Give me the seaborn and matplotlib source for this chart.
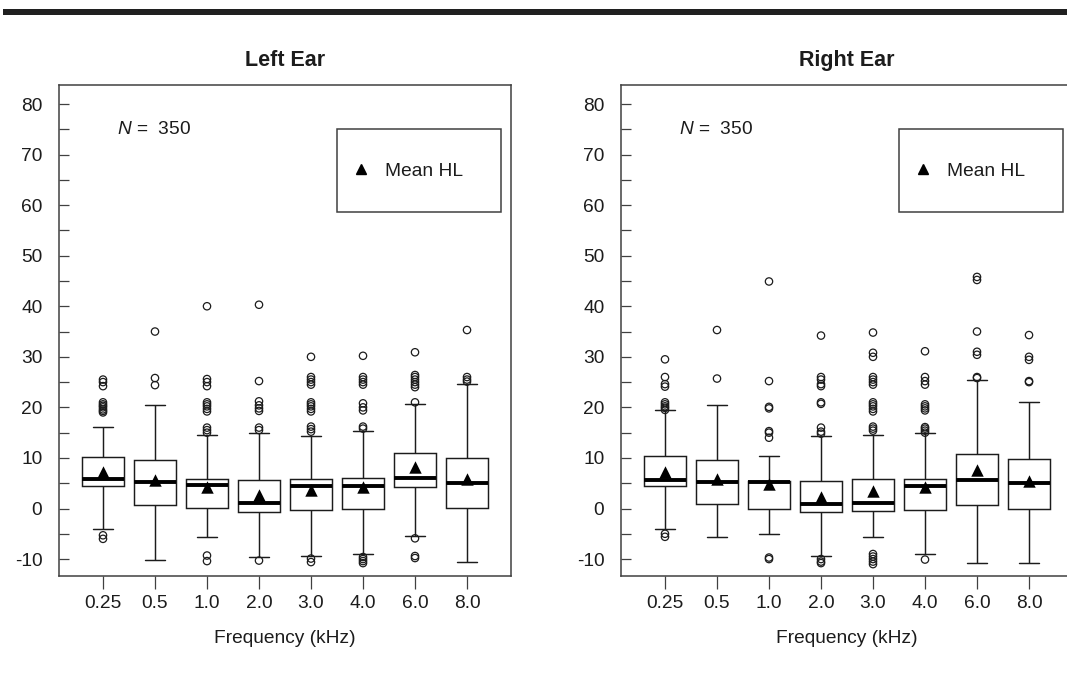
import numpy as np
import pandas as pd
import matplotlib
matplotlib.use("Agg")
import matplotlib.pyplot as plt
from matplotlib.patches import Rectangle
from matplotlib.lines import Line2D
from matplotlib.ticker import FixedLocator
import seaborn as sns

# ---------------- data ----------------
freq_labels = ["0.25", "0.5", "1.0", "2.0", "3.0", "4.0", "6.0", "8.0"]

# Left ear
left_whislo = [-4.0, -10.1, -5.7, -9.5, -9.3, -8.9, -5.5, -10.6]
left_q1     = [4.4, 0.6, 0.1, -0.7, -0.2, 0.0, 4.2, 0.1]
left_med    = [5.8, 5.2, 4.6, 1.0, 4.4, 4.4, 6.0, 5.0]
left_q3     = [10.2, 9.6, 5.9, 5.6, 5.9, 6.1, 10.9, 9.9]
left_whishi = [16.2, 20.5, 14.5, 14.9, 14.3, 15.4, 20.7, 24.6]
left_mean   = [7.3, 5.6, 4.3, 2.7, 3.7, 4.2, 8.3, 5.8]
left_out_025 = [-5.3, -6.0, 19.0, 19.3, 19.6, 20.0, 20.3, 20.6, 21.0, 24.2, 25.0, 25.5]
left_out_05  = [24.4, 25.8, 35.0]
left_out_1   = [-9.3, -10.4, 15.0, 15.5, 16.0, 19.2, 19.7, 20.2, 20.6, 21.0, 24.2, 25.0, 25.6, 40.0]
left_out_2   = [-10.3, 15.5, 16.0, 19.3, 19.8, 20.4, 21.2, 25.2, 40.3]
left_out_3   = [-9.9, -10.6, 15.2, 15.7, 16.2, 19.2, 19.7, 20.2, 20.6, 21.0, 24.5, 25.0, 25.5, 26.0, 30.0]
left_out_4   = [-9.6, -10.0, -10.4, -10.8, 15.8, 16.2, 19.4, 20.0, 20.8, 24.5, 25.0, 25.5, 26.0, 30.2]
left_out_6   = [-5.9, -9.4, -9.8, 21.0, 24.0, 24.5, 25.0, 25.5, 26.0, 26.4, 30.9]
left_out_8   = [25.1, 25.5, 26.0, 35.3]
left_outliers = [left_out_025, left_out_05, left_out_1, left_out_2,
                 left_out_3, left_out_4, left_out_6, left_out_8]

# Right ear
right_whislo = [-4.1, -5.7, -5.0, -9.3, -5.7, -9.0, -10.7, -10.7]
right_q1     = [4.4, 0.9, 0.0, -0.7, -0.4, -0.2, 0.75, 0.0]
right_med    = [5.6, 5.2, 5.2, 0.8, 1.1, 4.5, 5.6, 5.0]
right_q3     = [10.4, 9.6, 5.4, 5.4, 5.8, 5.9, 10.8, 9.7]
right_whishi = [19.4, 20.5, 10.4, 14.3, 14.5, 15.0, 25.5, 21.1]
right_mean   = [7.3, 5.9, 4.8, 2.2, 3.4, 4.2, 7.7, 5.5]
right_out_025 = [-5.0, -5.6, 19.5, 19.9, 20.2, 20.6, 21.0, 24.1, 24.6, 26.0, 29.5]
right_out_05  = [25.7, 35.3]
right_out_1   = [-9.7, -10.0, 14.0, 15.0, 15.3, 19.8, 20.1, 25.2, 44.9]
right_out_2   = [-10.0, -10.5, -10.8, 14.8, 15.2, 16.0, 20.7, 21.0, 24.2, 24.6, 25.5, 26.0, 34.2]
right_out_3   = [-9.0, -9.5, -10.0, -10.5, -11.0, 15.4, 15.8, 16.2, 19.2, 19.7, 20.2, 20.6,
                 21.0, 24.5, 25.0, 25.5, 26.0, 30.0, 30.8, 34.8]
right_out_4   = [-10.1, 15.0, 15.4, 15.8, 16.1, 19.4, 19.8, 20.2, 20.6, 24.5, 25.2, 26.0, 31.1]
right_out_6   = [25.8, 26.0, 30.4, 31.0, 35.0, 45.2, 45.8]
right_out_8   = [25.0, 25.2, 29.4, 30.0, 34.3]
right_outliers = [right_out_025, right_out_05, right_out_1, right_out_2,
                  right_out_3, right_out_4, right_out_6, right_out_8]

panel_titles = ["Left Ear", "Right Ear"]
n_text = "350"
x_label = "Frequency (kHz)"
legend_label = "Mean HL"

# ---------------- style ----------------
sns.set_theme(style="white")
plt.rcParams["font.family"] = ["Liberation Sans", "DejaVu Sans"]
plt.rcParams["mathtext.fontset"] = "custom"
plt.rcParams["mathtext.it"] = "Liberation Sans:italic"
plt.rcParams["mathtext.rm"] = "Liberation Sans"
plt.rcParams["axes.unicode_minus"] = False

INK = "#1c1c1c"
FRAME = "#404040"
FS = 13.8

fig = plt.figure(figsize=(10.67, 6.74), dpi=100)
fig.patch.set_facecolor("white")

# top rule
fig.add_artist(Rectangle((3 / 1067, 1 - 15 / 674), 1.0, 6 / 674,
                         transform=fig.transFigure, color="#202020", lw=0))

W, H = 1067, 674
ax_w = 452 / W
ax_h = 491 / H
ax_b = 1 - 576 / H
axes = [fig.add_axes([59 / W, ax_b, ax_w, ax_h]),
        fig.add_axes([621 / W, ax_b, ax_w, ax_h])]

panels = [
    (left_whislo, left_q1, left_med, left_q3, left_whishi, left_mean, left_outliers),
    (right_whislo, right_q1, right_med, right_q3, right_whishi, right_mean, right_outliers),
]

for ax, title, (lo, q1, med, q3, hi, mean, outs) in zip(axes, panel_titles, panels):
    pos = list(range(len(freq_labels)))
    # five-number summaries -> long table for seaborn
    box_rows = []
    for i in pos:
        for v in (lo[i], q1[i], med[i], q3[i], hi[i]):
            box_rows.append((i, v))
    box_df = pd.DataFrame(box_rows, columns=["pos", "HL"])

    sns.boxplot(data=box_df, x="pos", y="HL", native_scale=True, width=0.8,
                whis=(0, 100), showfliers=False, color="white",
                linecolor=INK, linewidth=1.05,
                medianprops=dict(color="black", linewidth=2.8),
                ax=ax)

    out_rows = [(i, v) for i in pos for v in outs[i]]
    out_df = pd.DataFrame(out_rows, columns=["pos", "HL"])
    sns.scatterplot(data=out_df, x="pos", y="HL", marker="o", s=28,
                    facecolor="none", edgecolor=INK, linewidth=0.9,
                    legend=False, ax=ax, zorder=3)

    sns.scatterplot(x=pos, y=mean, marker="^", s=80, color="black",
                    edgecolor="black", linewidth=0, legend=False, ax=ax, zorder=4)

    ax.set_xlim(-0.846, 7.846)
    ax.set_ylim(-13.35, 83.76)
    ax.set_xticks(pos)
    ax.set_xticklabels(freq_labels)
    ax.set_yticks(np.arange(-10, 81, 10))
    ax.yaxis.set_minor_locator(FixedLocator(np.arange(-5, 80, 10)))

    ax.tick_params(axis="y", which="both", direction="in", length=7.5, width=0.9,
                   color=FRAME, left=True, right=False, pad=12,
                   labelsize=FS, labelcolor=INK)
    ax.tick_params(axis="x", which="major", direction="out", length=9.5, width=0.9,
                   color=FRAME, bottom=True, pad=4, labelsize=FS, labelcolor=INK)

    for s in ax.spines.values():
        s.set_visible(True)
        s.set_color(FRAME)
        s.set_linewidth(1.1)

    ax.set_ylabel("")
    ax.set_xlabel(x_label, fontsize=FS, color=INK, labelpad=13)
    ax.set_title(title, fontsize=15.5, fontweight="bold", color=INK, pad=14)

    ax.text(0.27, 74.9, r"$N$ =  " + n_text, fontsize=FS, color=INK,
            ha="left", va="center")

    # legend box
    ax.add_patch(Rectangle((0.615, 0.741), 0.363, 0.169, transform=ax.transAxes,
                           fill=False, edgecolor=FRAME, linewidth=1.1, zorder=5))
    handle = Line2D([], [], marker="^", linestyle="none", color="black", markersize=7)
    ax.legend([handle], [legend_label], loc="center left",
              bbox_to_anchor=(0.647, 0.825), frameon=False, borderpad=0,
              borderaxespad=0, handlelength=1.0, handletextpad=0.75,
              fontsize=FS, labelcolor=INK)

fig.savefig("out.png", dpi=100, facecolor="white")
